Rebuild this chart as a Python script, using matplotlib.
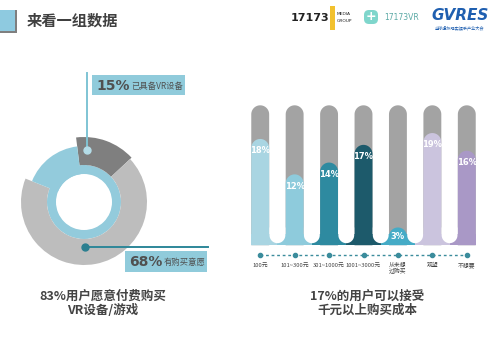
import numpy as np
import matplotlib
matplotlib.use("Agg")
import matplotlib.pyplot as plt
from matplotlib.patches import Wedge, Rectangle, Polygon, FancyBboxPatch

plt.rcParams['font.family'] = ['Noto Sans CJK SC', 'DejaVu Sans']

# =====================
# Dati
# =====================
donut_labels = ["已具备VR设备", "有购买意愿", "其他"]
donut_values = [15, 68, 17]

bar_cats = ["100元", "101~300元", "301~1000元", "1001~3000元", "从未想\n过购买", "观望", "不想要"]
bar_values = [18, 12, 14, 17, 3, 19, 16]
bar_colors = ["#a9d5e2", "#8ecbdc", "#2e8aa0", "#1d5a6b", "#45abc6", "#cbc4de", "#a998c6"]

title = "来看一组数据"
left_caption = "83%用户愿意付费购买\nVR设备/游戏"
right_caption = "17%的用户可以接受\n千元以上购买成本"

fig = plt.figure(figsize=(5, 3.5), dpi=100)

# =====================
# Ciambella (unità = pixel)
# =====================
axd = fig.add_axes([9 / 500, 1 - 277 / 350, 150 / 500, 150 / 350])
axd.set_xlim(-75, 75)
axd.set_ylim(-75, 75)
axd.set_aspect("equal")
axd.axis("off")

start = 97
fracs = np.array(donut_values) / sum(donut_values) * 360
cum = np.concatenate([[0], np.cumsum(fracs)])
radii = [65, 63, 56]
inner = [37, 37, 28]
dcolors = ["#7f7f7f", "#bdbdbd", "#93cbdc"]

# anello interno azzurro
axd.add_patch(Wedge((0, 0), 37, 0, 360, width=9, color=dcolors[2], lw=0))
for i in range(len(donut_values)):
    t1 = start - cum[i + 1]
    t2 = start - cum[i]
    axd.add_patch(Wedge((0, 0), radii[i], t1, t2, width=radii[i] - inner[i],
                        color=dcolors[i], lw=0))

# =====================
# Barre
# =====================
axb = fig.add_axes([243 / 500, 1 - 280 / 350, 241 / 500, 180 / 350])
axb.set_xlim(-0.5, 6.5)
axb.set_ylim(-5.9, 24.6)
axb.axis("off")

TRACK = 23.7
w = 0.52
rx, ry = w / 2, 1.53


def pill(xc, top, color, z):
    th = np.linspace(0, np.pi, 40)
    xs = list(xc + rx * np.cos(th))
    ys = list(top - ry + ry * np.sin(th))
    xs = [xc + rx] + xs + [xc - rx]
    ys = [0] + ys + [0]
    axb.add_patch(Polygon(np.column_stack([xs, ys]), closed=True,
                          color=color, lw=0, zorder=z))


x = np.arange(len(bar_values))
for i, v in enumerate(bar_values):
    pill(x[i], TRACK, "#a3a3a3", 1)
    pill(x[i], v, bar_colors[i], 2)
    left = x[i] - 0.5 if i > 0 else x[i] - rx
    right = x[i] + 0.5 if i < len(bar_values) - 1 else x[i] + rx
    axb.add_patch(Rectangle((left, 0), right - left, 1.9,
                            color=bar_colors[i], lw=0, zorder=2))
    axb.text(x[i], max(v - 2.0, 1.4), f"{v}%", ha="center", va="center", color="white",
             fontsize=6, fontweight="bold", family="DejaVu Sans", zorder=5)
    axb.text(x[i], -3.0, bar_cats[i], ha="center", va="top", fontsize=4.2,
             color="#444444", linespacing=1.0)

# spazi bianchi arrotondati fra le basi
gx, gy = 0.23, 1.36
for i in range(len(bar_values) - 1):
    xc = x[i] + 0.5
    th = np.linspace(np.pi, 2 * np.pi, 40)
    xs = [xc - gx] + list(xc + gx * np.cos(th)) + [xc + gx]
    ys = [3] + list(1.7 + gy * np.sin(th)) + [3]
    axb.add_patch(Polygon(np.column_stack([xs, ys]), closed=True,
                          color="white", lw=0, zorder=3))

axb.plot(x, [-1.7] * len(x), color="#3b8c9c", lw=1, ls=(0, (2, 2)),
         marker="o", markersize=3, zorder=4)

# =====================
# Testi e decorazioni (unità = pixel)
# =====================
ov = fig.add_axes([0, 0, 1, 1], facecolor="none")
ov.set_xlim(0, 500)
ov.set_ylim(350, 0)
ov.axis("off")
ov.set_zorder(10)

ov.add_patch(Rectangle((0, 10), 17, 23, color="#7f7f7f", lw=0))
ov.add_patch(Rectangle((0, 10), 15, 21, color="#8ecae0", lw=0))
ov.text(27, 21, title, fontsize=11, fontweight="bold", color="#404040", va="center")

# loghi
ov.text(329, 18, "17173", fontsize=8, fontweight="bold", color="#222222",
        ha="right", va="center", family="DejaVu Sans")
ov.add_patch(Polygon([[330, 6], [335, 6], [335, 30], [330, 30]], color="#f2c12e", lw=0))
ov.text(337, 14, "MEDIA", fontsize=3.2, color="#222222", va="center", family="DejaVu Sans")
ov.text(337, 21, "GROUP", fontsize=3.2, color="#222222", va="center", family="DejaVu Sans")
ov.add_patch(FancyBboxPatch((364, 10), 14, 14, boxstyle="round,pad=0,rounding_size=5",
                            color="#7fd6cc", lw=0))
ov.text(371, 17, "+", fontsize=9, color="white", ha="center", va="center",
        fontweight="bold", family="DejaVu Sans")
ov.text(384, 17, "17173VR", fontsize=5.5, color="#5aa9a5", va="center", family="DejaVu Sans")
ov.text(460, 15, "GVRES", fontsize=11, fontweight="bold", style="italic",
        color="#1f5fb0", ha="center", va="center", family="DejaVu Sans")
ov.text(460, 28, "全球虚拟现实娱乐产业大会", fontsize=3, color="#1f5fb0",
        ha="center", va="center")

# richiamo 15%
ov.plot([86.7, 86.7], [150, 73], color="#7fc4d4", lw=1.4)
ov.plot(86.7, 150, "o", color="#b4dde8", markersize=5)
ov.add_patch(Rectangle((92, 75), 93, 20, color="#90cbdb", lw=0))
t1 = ov.text(96, 86, f"{donut_values[0]}%", fontsize=10, fontweight="bold",
             color="#505050", va="center", family="DejaVu Sans")
ov.annotate(donut_labels[0], xy=(1, 0.5), xycoords=t1, xytext=(1, 0),
            textcoords="offset points", fontsize=6, color="#505050", va="center")

# richiamo 68%
ov.plot([85, 208], [247, 247], color="#2e8799", lw=1.4)
ov.plot(85, 247, "o", color="#2b7f90", markersize=5)
ov.add_patch(Rectangle((125, 251), 82, 21, color="#90cbdb", lw=0))
t2 = ov.text(129, 262, f"{donut_values[1]}%", fontsize=10, fontweight="bold",
             color="#505050", va="center", family="DejaVu Sans")
ov.annotate(donut_labels[1], xy=(1, 0.5), xycoords=t2, xytext=(1, 0),
            textcoords="offset points", fontsize=6, color="#505050", va="center")

ov.text(103, 303, left_caption, fontsize=9, fontweight="bold", color="#444444",
        ha="center", va="center", linespacing=1.1)
ov.text(367, 303, right_caption, fontsize=9, fontweight="bold", color="#444444",
        ha="center", va="center", linespacing=1.1)

fig.savefig("out.png", dpi=100)
